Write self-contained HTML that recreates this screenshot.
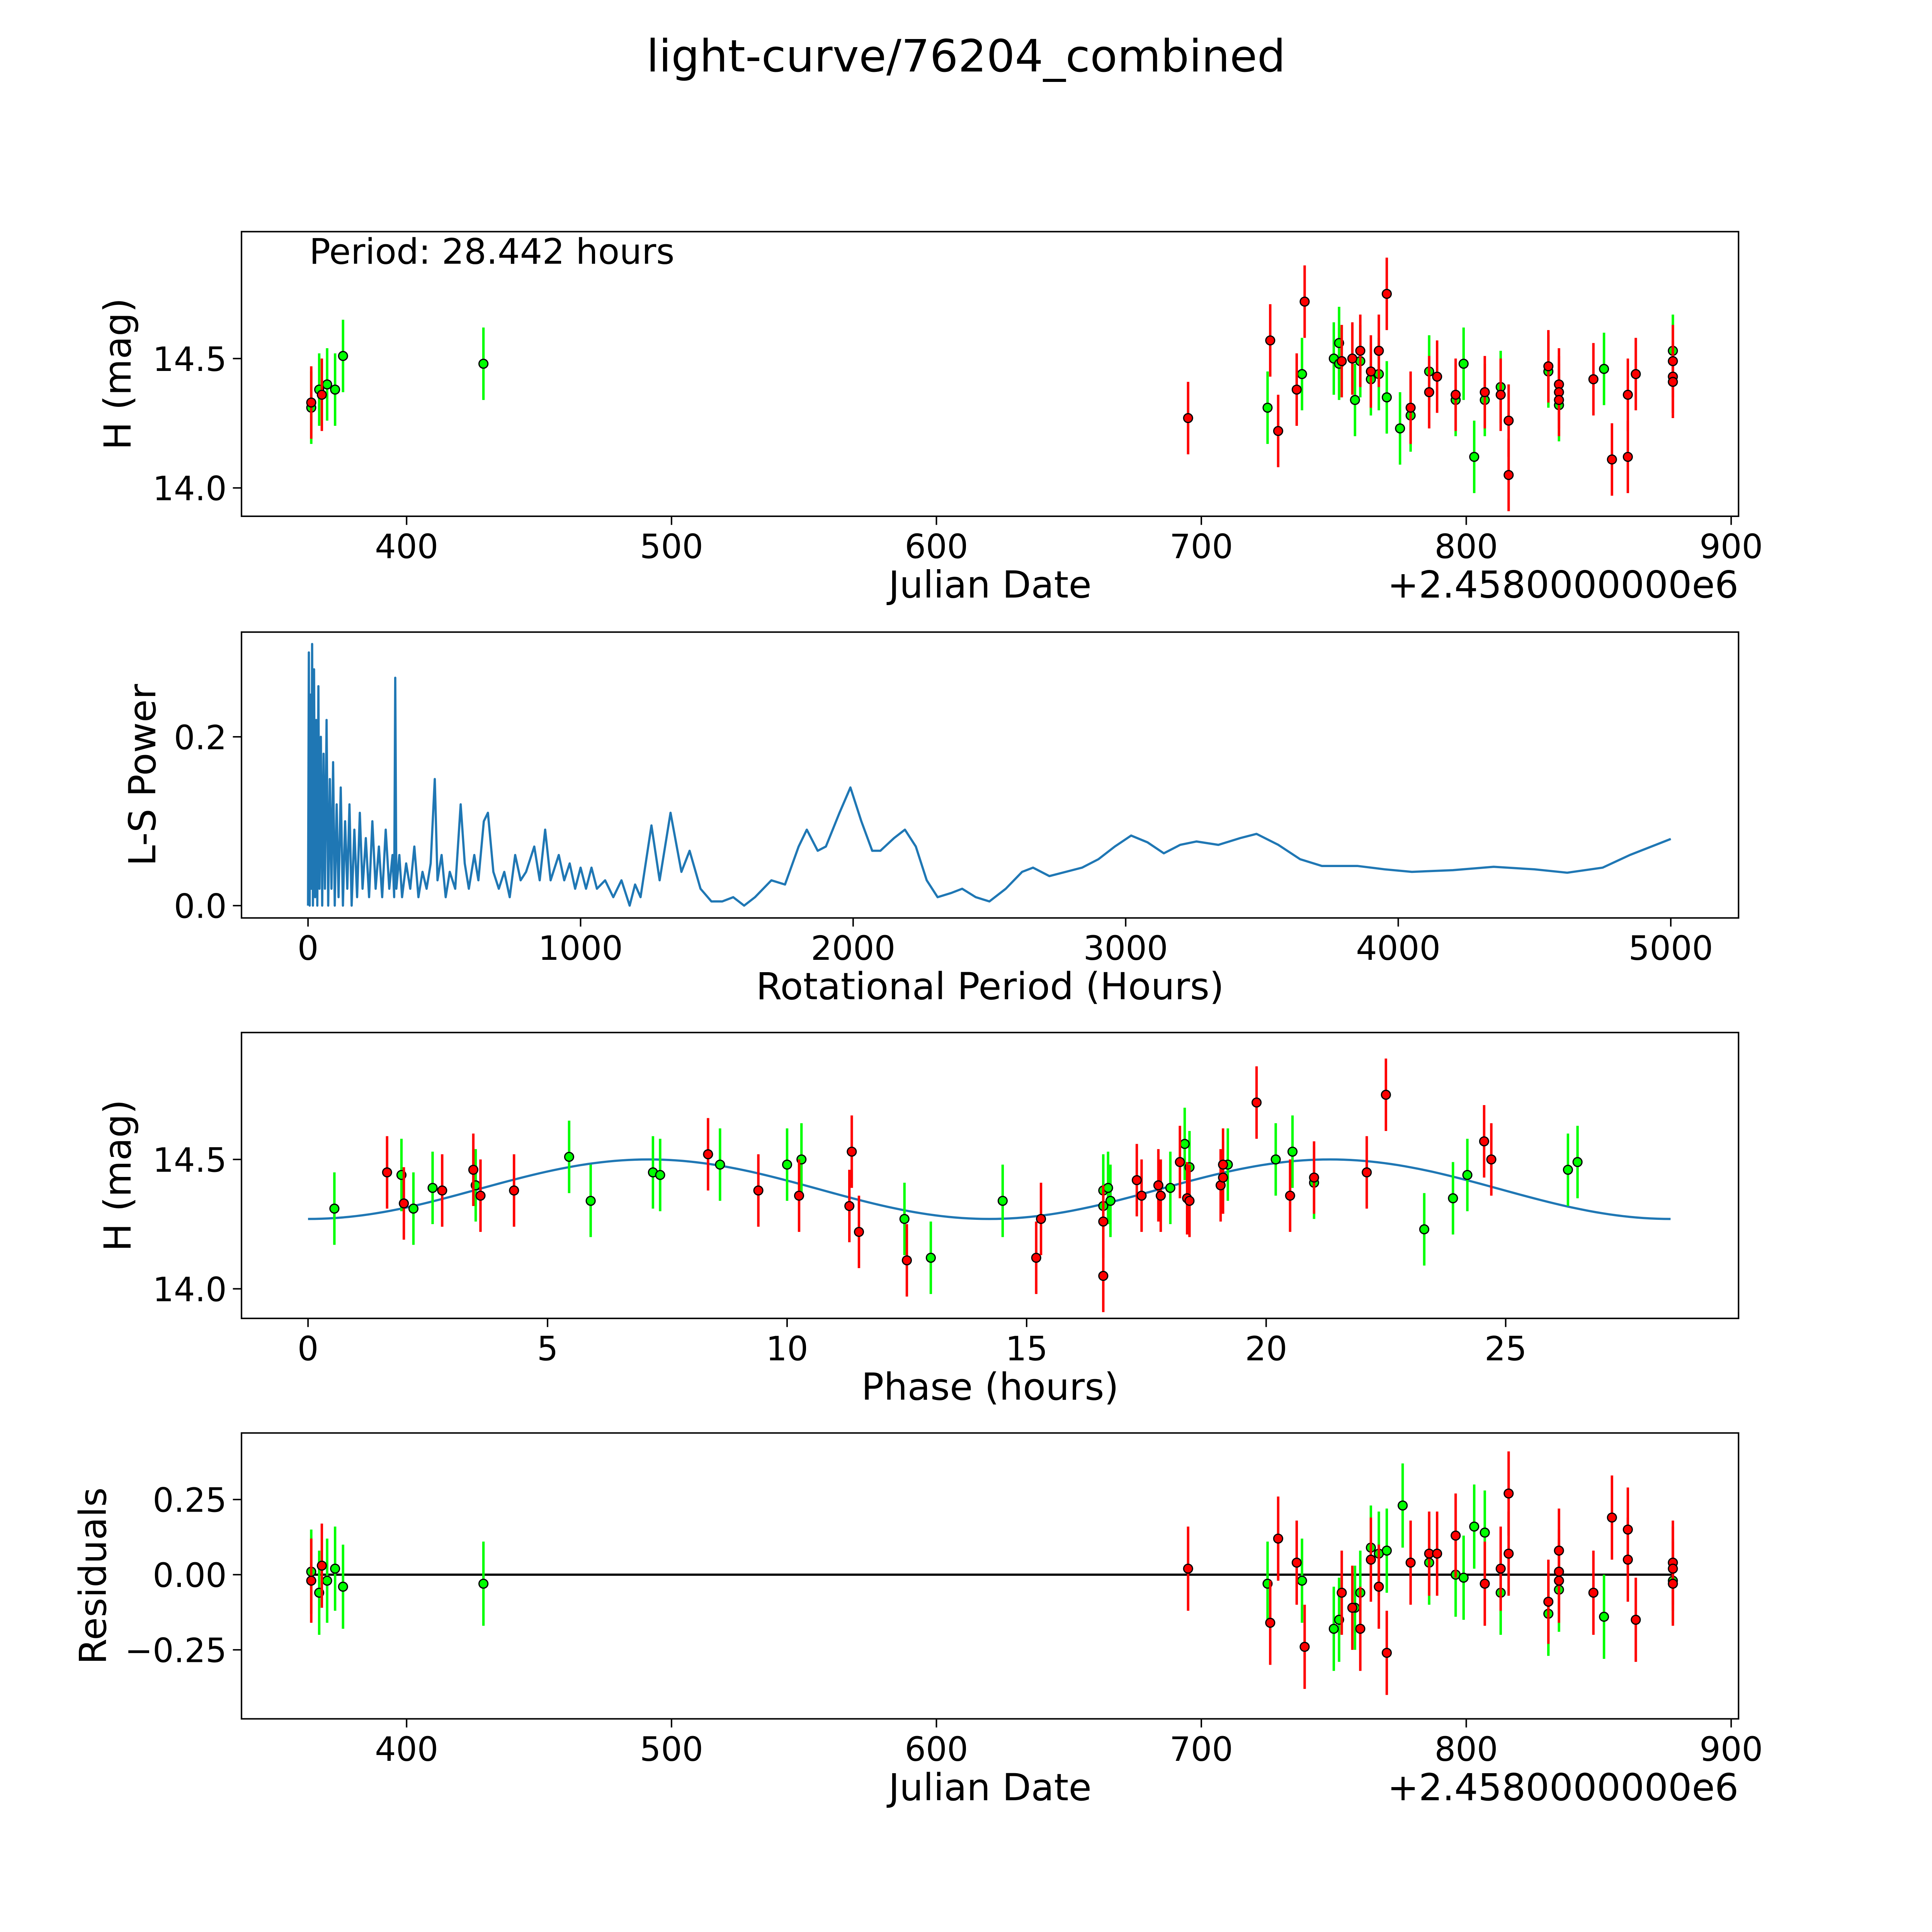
<!DOCTYPE html>
<html><head><meta charset="utf-8">
<style>
html,body{margin:0;padding:0;background:#fff;overflow:hidden;width:100%;height:100%;}
svg{display:block;position:fixed;left:0;top:0;width:100vw;height:100vh;font-family:"DejaVu Sans","Liberation Sans",sans-serif;}
</style></head>
<body>
<svg id="fig" xmlns="http://www.w3.org/2000/svg" viewBox="0 0 1568 1568" preserveAspectRatio="none">
<rect width="1568" height="1568" fill="#fff"/>
<text x="784" y="58" font-size="36.2" text-anchor="middle">light-curve/76204_combined</text>
</svg>
<script>
// Panel 1 & 4: observations [julianDateOffset, H mag]
const greenObs = [[364,14.31],[367,14.38],[370,14.40],[373,14.38],[376,14.51],[429,14.48],[725,14.31],[738,14.44],[750,14.50],[752,14.56],[752,14.48],[758,14.34],[760,14.49],[764,14.42],[767,14.44],[770,14.35],[775,14.23],[779,14.28],[786,14.45],[796,14.34],[799,14.48],[803,14.12],[807,14.34],[813,14.39],[831,14.45],[835,14.32],[852,14.46],[878,14.53]];
const redObs = [[364,14.33],[368,14.36],[695,14.27],[726,14.57],[729,14.22],[736,14.38],[739,14.72],[753,14.49],[757,14.50],[760,14.53],[764,14.45],[767,14.53],[770,14.75],[779,14.31],[786,14.37],[789,14.43],[796,14.36],[807,14.37],[813,14.36],[816,14.26],[816,14.05],[831,14.47],[835,14.40],[835,14.37],[835,14.34],[848,14.42],[855,14.11],[861,14.12],[861,14.36],[864,14.44],[878,14.49],[878,14.43],[878,14.41]];
const magErr = 0.14;
// Panel 2: periodogram
const lsPeriods = [0,3,6,9,12,15,18,22,26,30,34,38,42,47,52,57,62,68,74,80,86,92,98,105,112,120,128,136,144,152,160,170,180,190,200,212,224,236,248,260,272,285,298,310,316,320,324,335,345,360,375,390,405,420,435,450,465,475,490,505,520,540,560,575,590,610,625,645,660,680,700,720,740,760,780,800,830,850,870,890,920,940,960,980,1000,1020,1040,1060,1090,1120,1150,1180,1200,1220,1260,1290,1330,1370,1400,1440,1480,1520,1560,1600,1640,1700,1750,1800,1830,1870,1900,1950,1990,2030,2070,2100,2150,2190,2230,2270,2310,2360,2400,2450,2500,2560,2620,2660,2720,2780,2840,2900,2960,3020,3080,3140,3200,3260,3340,3420,3480,3560,3640,3720,3850,3950,4050,4200,4350,4500,4620,4750,4850,5000];
const lsPower = [0,0.30,0.0,0.25,0.02,0.31,0,0.28,0.01,0.22,0,0.26,0.02,0.2,0,0.18,0.02,0.22,0,0.15,0.02,0.17,0,0.12,0.01,0.14,0,0.1,0.02,0.12,0,0.09,0.01,0.11,0.02,0.08,0.01,0.1,0.02,0.07,0.01,0.09,0.02,0.06,0.01,0.27,0.02,0.06,0.01,0.05,0.02,0.07,0.01,0.04,0.02,0.05,0.15,0.03,0.06,0.01,0.04,0.02,0.12,0.05,0.02,0.06,0.03,0.1,0.11,0.04,0.02,0.04,0.01,0.06,0.03,0.04,0.07,0.03,0.09,0.03,0.06,0.03,0.05,0.02,0.045,0.02,0.045,0.02,0.03,0.01,0.03,0.0,0.025,0.01,0.095,0.03,0.11,0.04,0.065,0.02,0.005,0.005,0.01,0.0,0.01,0.03,0.025,0.07,0.09,0.065,0.07,0.11,0.14,0.1,0.065,0.065,0.08,0.09,0.07,0.03,0.01,0.015,0.02,0.01,0.005,0.02,0.04,0.045,0.035,0.04,0.045,0.055,0.07,0.083,0.075,0.062,0.072,0.076,0.072,0.08,0.085,0.072,0.055,0.047,0.047,0.043,0.04,0.042,0.046,0.043,0.039,0.045,0.06,0.079];
// Panel 3: phased [phase hours, mag]
const greenPhase = [[0.55,14.31],[1.95,14.44],[2.2,14.31],[2.6,14.39],[3.5,14.40],[5.45,14.51],[5.9,14.34],[7.2,14.45],[7.35,14.44],[8.6,14.48],[10.0,14.48],[10.3,14.50],[12.45,14.27],[13.0,14.12],[14.5,14.34],[16.6,14.38],[16.6,14.32],[16.7,14.39],[16.75,14.34],[18.0,14.39],[18.3,14.56],[18.4,14.47],[19.2,14.48],[20.2,14.50],[20.55,14.53],[21.0,14.41],[23.3,14.23],[23.9,14.35],[24.2,14.44],[26.3,14.46],[26.5,14.49]];
const redPhase = [[1.65,14.45],[2.0,14.33],[2.8,14.38],[3.45,14.46],[3.6,14.36],[4.3,14.38],[8.35,14.52],[9.4,14.38],[10.25,14.36],[11.3,14.32],[11.35,14.53],[11.5,14.22],[12.5,14.11],[15.2,14.12],[15.3,14.27],[16.6,14.26],[16.6,14.05],[17.3,14.42],[17.4,14.36],[17.75,14.40],[17.8,14.36],[18.2,14.49],[18.35,14.35],[18.4,14.34],[19.05,14.40],[19.1,14.43],[19.1,14.48],[19.8,14.72],[20.5,14.36],[21.0,14.43],[22.1,14.45],[22.5,14.75],[24.55,14.57],[24.7,14.50]];
const fitMean = 14.385, fitAmp = 0.115, fitPeriod = 28.442;
// Panel 4: residuals [jd offset, residual]
const greenRes = [[364,0.01],[367,-0.06],[370,-0.02],[373,0.02],[376,-0.04],[429,-0.03],[725,-0.03],[738,-0.02],[750,-0.18],[752,-0.15],[758,-0.11],[760,-0.06],[764,0.09],[767,0.07],[770,0.08],[776,0.23],[786,0.04],[796,0.0],[799,-0.01],[803,0.16],[807,0.14],[813,-0.06],[831,-0.13],[835,-0.05],[852,-0.14],[878,-0.02]];
const redRes = [[364,-0.02],[368,0.03],[695,0.02],[726,-0.16],[729,0.12],[736,0.04],[739,-0.24],[753,-0.06],[757,-0.11],[760,-0.18],[764,0.05],[767,-0.04],[770,-0.26],[779,0.04],[786,0.07],[789,0.07],[796,0.13],[807,-0.03],[813,0.02],[816,0.27],[816,0.07],[831,-0.09],[835,0.08],[835,0.01],[835,-0.02],[848,-0.06],[855,0.19],[861,0.15],[861,0.05],[864,-0.15],[878,0.04],[878,0.02],[878,-0.03]];
const jdTicks = [400,500,600,700,800,900];
const magTicks = [14.0,14.5];
const lsXTicks = [0,1000,2000,3000,4000,5000];
const lsYTicks = [0.0,0.2];
const phaseTicks = [0,5,10,15,20,25];
const resTicks = [-0.25,0.00,0.25];

const NS='http://www.w3.org/2000/svg';
const svg=document.getElementById('fig');
function el(tag,attrs,parent){const e=document.createElementNS(NS,tag);for(const k in attrs)e.setAttribute(k,attrs[k]);(parent||svg).appendChild(e);return e;}
function lin(d0,d1,r0,r1){return v=>r0+(v-d0)*(r1-r0)/(d1-d0);}

function panel(name,box,sx,sy,xt,yt,xfmt,yfmt,xlabel,ylabel,offset){
  const g=el('g',{});
  
  
  xt.forEach(t=>{const x=sx(t);
    el('line',{x1:x,x2:x,y1:box.b,y2:box.b+7,stroke:'#000','stroke-width':1.2},g);
    const tx=el('text',{x:x,y:box.b+34,'font-size':27,'text-anchor':'middle'},g);tx.textContent=xfmt(t);
    
    });
  yt.forEach(t=>{const y=sy(t);
    el('line',{x1:box.l-7,x2:box.l,y1:y,y2:y,stroke:'#000','stroke-width':1.2},g);
    const tx=el('text',{x:box.l-12,y:y+10,'font-size':27,'text-anchor':'end'},g);tx.textContent=yfmt(t);
    
    });
  const xl=el('text',{x:(box.l+box.r)/2,y:box.b+66,'font-size':30.3,'text-anchor':'middle'},g);xl.textContent=xlabel;
  
  
  const yl=el('text',{x:0,y:0,'font-size':30.3,'text-anchor':'middle',transform:`translate(${box.yl},${(box.t+box.b)/2}) rotate(-90)`},g);yl.textContent=ylabel;
  
  
  if(offset){const o=el('text',{x:box.r,y:box.b+66,'font-size':30.3,'text-anchor':'end'},g);o.textContent=offset;
    
    }
  return g;
}
function frame(box){const f=el('rect',{x:box.l,y:box.t,width:box.r-box.l,height:box.b-box.t,fill:'none',stroke:'#000','stroke-width':1.2});
  
  }
function points(g,data,color,sx,sy,err){
  data.forEach(p=>{const x=sx(p[0]);
    const l=el('line',{x1:x,x2:x,y1:sy(p[1]-err),y2:sy(p[1]+err),stroke:color,'stroke-width':2},g);
    
    });
  data.forEach(p=>{const c=el('circle',{cx:sx(p[0]),cy:sy(p[1]),r:3.6,fill:color,stroke:'#000','stroke-width':1},g);
    
    });
}
const f2=v=>v.toFixed(1), jf=v=>String(v);

// Panel 1
{const box={l:196,r:1411,t:188,b:419,yl:106};
 const sx=lin(400,900,330,1405), sy=lin(14,14.5,396,291);
 const g=panel('light-curve-panel',box,sx,sy,jdTicks,magTicks,jf,f2,'Julian Date','H (mag)','+2.4580000000e6');
 points(g,greenObs,'#00ff00',sx,sy,magErr);points(g,redObs,'#ff0000',sx,sy,magErr);
 const t=el('text',{x:251,y:214,'font-size':28.5},g);t.textContent='Period: 28.442 hours';
 
 
 frame(box);}
// Panel 2
{const box={l:196,r:1411,t:513,b:745,yl:126};
 const sx=lin(0,5000,250,1356), sy=lin(0,0.2,735,598);
 const g=panel('periodogram-panel',box,sx,sy,lsXTicks,lsYTicks,jf,f2,'Rotational Period (Hours)','L-S Power');
 const pts=lsPeriods.map((p,i)=>sx(p).toFixed(2)+','+sy(lsPower[i]).toFixed(2)).join(' ');
 const pl=el('polyline',{points:pts,fill:'none',stroke:'#1f77b4','stroke-width':1.8,'stroke-linejoin':'round'},g);
 
 
 frame(box);}
// Panel 3
{const box={l:196,r:1411,t:838,b:1070,yl:106};
 const sx=lin(0,25,250,1222), sy=lin(14,14.5,1046,941);
 const g=panel('phase-panel',box,sx,sy,phaseTicks,magTicks,jf,f2,'Phase (hours)','H (mag)');
 const c=[];for(let i=0;i<=200;i++){const x=fitPeriod*i/200;c.push(sx(x).toFixed(2)+','+sy(fitMean-fitAmp*Math.cos(4*Math.PI*x/fitPeriod)).toFixed(2));}
 const pl=el('polyline',{points:c.join(' '),fill:'none',stroke:'#1f77b4','stroke-width':1.8},g);
 
 
 points(g,greenPhase,'#00ff00',sx,sy,magErr);points(g,redPhase,'#ff0000',sx,sy,magErr);
 frame(box);}
// Panel 4
{const box={l:196,r:1411,t:1163,b:1395,yl:86};
 const sx=lin(400,900,330,1405), sy=lin(0,0.25,1278,1217);
 const g=panel('residuals-panel',box,sx,sy,jdTicks,resTicks,jf,v=>(v<0?'\u2212':'')+Math.abs(v).toFixed(2),'Julian Date','Residuals','+2.4580000000e6');
 const z=el('line',{x1:sx(364),x2:sx(878),y1:sy(0),y2:sy(0),stroke:'#000','stroke-width':1.8},g);
 
 
 points(g,greenRes,'#00ff00',sx,sy,magErr);points(g,redRes,'#ff0000',sx,sy,magErr);
 frame(box);}
</script>
</body></html>
